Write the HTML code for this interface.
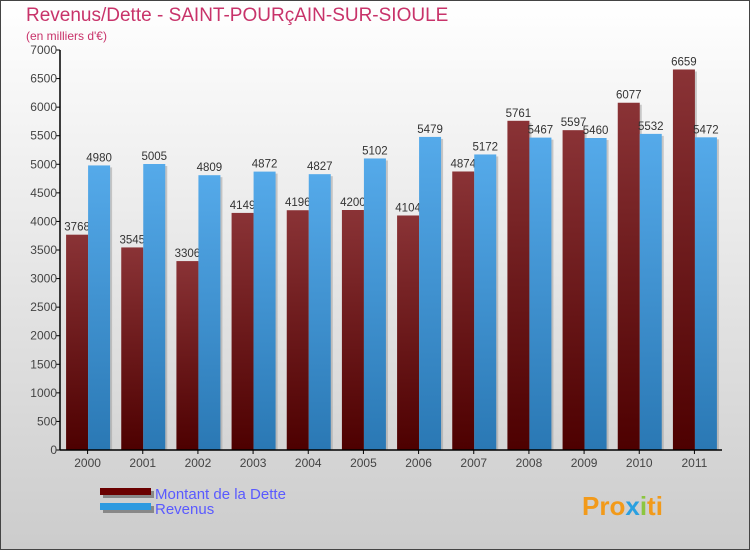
<!DOCTYPE html>
<html><head><meta charset="utf-8"><style>
body{margin:0;width:750px;height:550px;overflow:hidden;font-family:"Liberation Sans",sans-serif}
</style></head><body>
<svg width="750" height="550" xmlns="http://www.w3.org/2000/svg">
<defs>
<linearGradient id="bg" x1="0" y1="0" x2="0" y2="1"><stop offset="0" stop-color="#ffffff"/><stop offset="1" stop-color="#cccccc"/></linearGradient>
<linearGradient id="gd" x1="0" y1="0" x2="0" y2="1"><stop offset="0" stop-color="#8a3336"/><stop offset="1" stop-color="#4d0000"/></linearGradient>
<linearGradient id="gr" x1="0" y1="0" x2="0" y2="1"><stop offset="0" stop-color="#55aaea"/><stop offset="1" stop-color="#2a78b4"/></linearGradient>
</defs>
<rect x="0.5" y="0.5" width="749" height="549" fill="url(#bg)" stroke="#444"/>
<text x="26" y="21" font-size="19" fill="#c8336a">Revenus/Dette - SAINT-POURçAIN-SUR-SIOULE</text>
<text x="26" y="40" font-size="12" fill="#c8336a">(en milliers d'€)</text>
<g id="plot"></g>
<g>
<rect x="103" y="491" width="51" height="7" fill="#888"/><rect x="100" y="488" width="51" height="7" fill="#6a0000"/>
<text x="155" y="499" font-size="15" fill="#5a5aff">Montant de la Dette</text>
<rect x="103" y="506" width="51" height="7" fill="#888"/><rect x="100" y="503" width="51" height="7" fill="#2e9ae0"/>
<text x="155" y="514" font-size="15" fill="#5a5aff">Revenus</text>
</g>
<text x="582" y="515" font-size="26" font-weight="bold" fill="#f29a1a">Pro<tspan fill="#2aa0e0">x</tspan><tspan fill="#8cc63f">i</tspan>ti</text>
</svg>
<script>
const years=["2000","2001","2002","2003","2004","2005","2006","2007","2008","2009","2010","2011"];
const dette=[3768,3545,3306,4149,4196,4200,4104,4874,5761,5597,6077,6659];
const revenus=[4980,5005,4809,4872,4827,5102,5479,5172,5467,5460,5532,5472];
const yTicks=[0,500,1000,1500,2000,2500,3000,3500,4000,4500,5000,5500,6000,6500,7000];
const NS="http://www.w3.org/2000/svg";
const g=document.getElementById('plot');
const x0=60,x1=722,y0=450,y1=50,maxV=7000;
const gw=(x1-x0)/years.length;
const yS=v=>y0-(v/maxV)*(y0-y1);
function mk(t,a,p){const e=document.createElementNS(NS,t);for(const k in a)e.setAttribute(k,a[k]);(p||g).appendChild(e);return e;}
years.forEach((yr,i)=>{
 const cx=x0+gw*(i+0.5);
 [[dette[i],cx-21.5,'url(#gd)','bar-dette-'+yr],[revenus[i],cx+0.5,'url(#gr)','bar-revenus-'+yr]].forEach(([v,x,f,n])=>{
  const s=mk('rect',{x:x+2,y:yS(v)+2,width:22,height:y0-yS(v)-2,fill:'#999',opacity:0.5});
  
  
  const r=mk('rect',{x:x,y:yS(v),width:22,height:y0-yS(v),fill:f});
  
  
  const t=mk('text',{x:x+11,y:yS(v)-4,'font-size':11.5,fill:'#333','text-anchor':'middle'});
  t.textContent=v;
  
  
 });
 const tk=mk('line',{x1:cx,x2:cx,y1:y0,y2:y0+4,stroke:'#000'});
 
 
 const lb=mk('text',{x:cx,y:y0+17,'font-size':12,fill:'#444','text-anchor':'middle'});
 lb.textContent=yr;
 
 
});
yTicks.forEach(v=>{
 const tk=mk('line',{x1:x0-4,x2:x0,y1:yS(v),y2:yS(v),stroke:'#000'});
 
 
 const lb=mk('text',{x:x0-3,y:yS(v)+4,'font-size':12,fill:'#444','text-anchor':'end'});
 lb.textContent=v;
 
 
});
const ax=mk('line',{x1:x0,x2:x0,y1:y1,y2:y0,stroke:'#000','stroke-width':1.5});


const bx=mk('line',{x1:x0,x2:x1,y1:y0,y2:y0,stroke:'#000','stroke-width':1.5});


</script>
</body></html>
